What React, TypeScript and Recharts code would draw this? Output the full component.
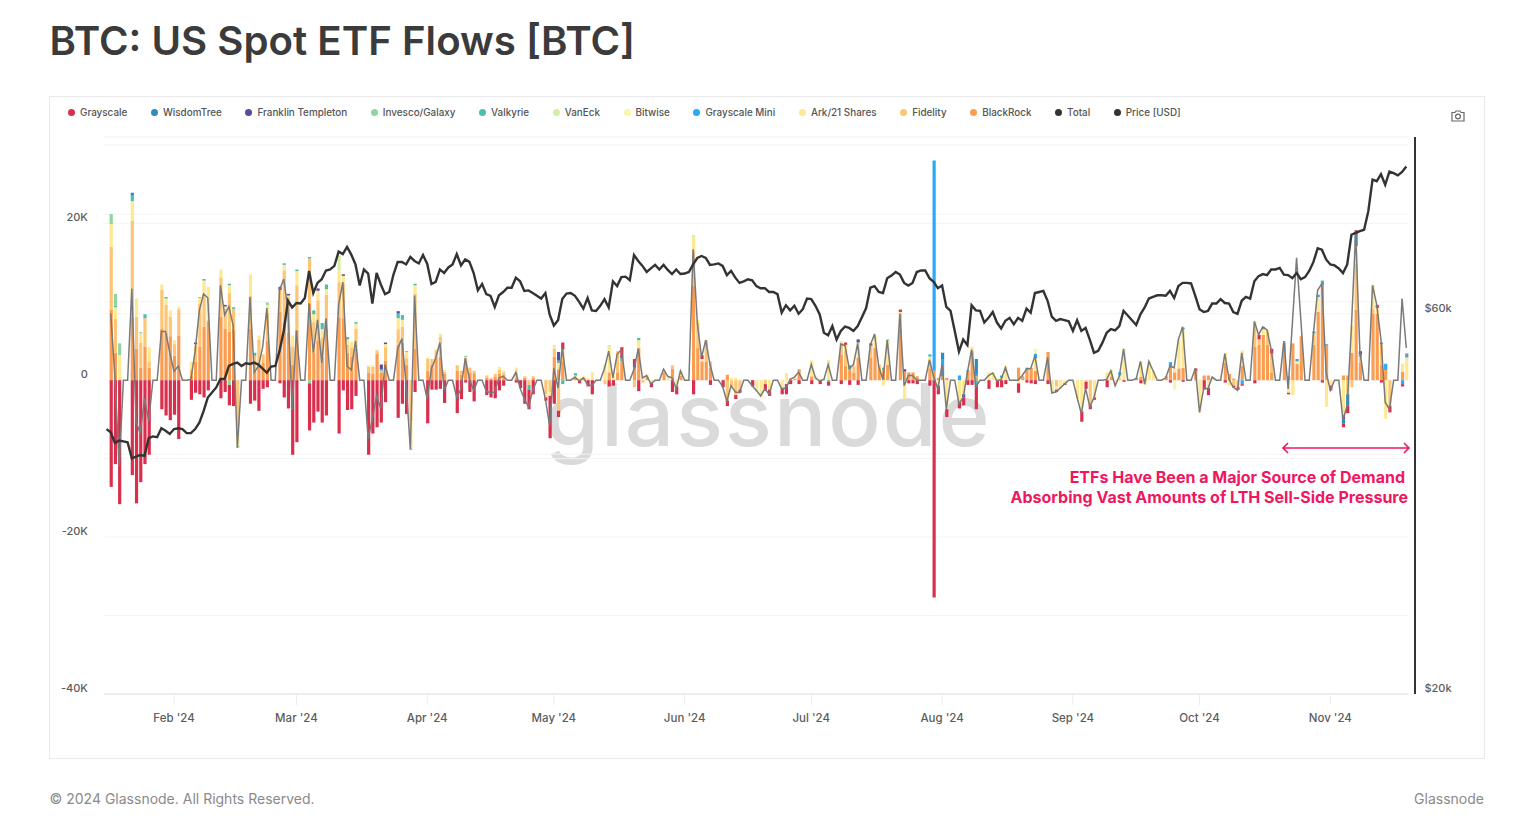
import {
  Bar,
  CartesianGrid,
  ComposedChart,
  Legend,
  Line,
  XAxis,
  YAxis,
} from "recharts";

// All flows are in thousands of BTC, one row per trading week (Mon-Fri).
// The first row starts on Tue 16 Jan, the last one stops on Tue 19 Nov.
const grayscale = [
  0, -13.6, -10.7, -15.8,
  -12.1, -15.7, -13.0, -10.7, -9.5,
  -3.7, -4.5, -5.1, -4.4, -7.5,
  -2.5, -1.6, -1.8, -2.2, -1.3,
  -2.3, -1.5, -2.6, -3.3, 0,
  -3.0, -2.6, -3.9, -1.1, -0.9,
  -0.4, -2.2, -3.6, -9.5, -7.9,
  -6.0, -5.4, -4.0, -5.4, -4.5,
  -6.8, -1.3, -3.8, -3.7, -2.0,
  -9.5, -6.8, -6.0, -5.4, -2.8,
  -4.8, -3.0, -4.3, 0, -1.5,
  -5.5, -1.2, -1.2, -1.1, -2.9,
  -4.2, -2.4, -0.3, -1.5, -2.7,
  -1.9, -2.2, -2.3, -1.3, -0.7,
  -0.3, -1.0, -3.0, -2.5, -1.8,
  -0.4, -5.4, -3.0, -0.8, 0.9,
  0, -0.4, 0, -0.8, -1.8,
  0, -0.8, -0.7, 0, 1.4,
  1.1, -1.4, 0, 0, -0.6,
  0, 0, -1.5, -1.0, 0,
  -1.8, 0, 0.5, 0, -0.6,
  -0.9, -0.7, 0, -0.5, -0.4,
  -0.8, 0, 0, -0.8, -0.8,
  -0.7, -1.3, -0.5, 0, -0.5,
  -0.5, 0, -0.5, 0, -0.5,
  -0.5, 0.3, -0.6, 0, -0.6,
  0.3, 0, 0, 0, 0,
  0.3, 0, -0.4, -0.4, -0.5,
  -0.7, -27.7, -1.1, 0, -1.0,
  -0.8, -1.0, -0.6, -0.6, -3.0,
  -1.1, 0, -0.9, -0.9, -0.5,
  -1.2, 0, -0.3, -0.4, -0.5,
  -0.5, 0, -0.3, 0, -0.2,
  0, -1.3, -0.9, -0.5, -0.3,
  -0.9, 0, 0, 0, -0.2,
  0, -0.4, 0, 0, 0,
  0, -0.3, 0, 0, -0.2,
  0.3, 0, -1.2, -0.9, 0,
  -0.3, 0, -0.2, -0.3, -0.2,
  -0.4, 0.6, 0, 0, 0.6,
  0, -0.2, 0, 0, 0,
  0, 0, -0.3, 0, -0.6,
  -0.5, -1.0, 0, 0.5, 0,
  0, 0.4, -0.3, 0, -0.8,
  -0.3, 0.1,
];

const blackRock = [
  0, 9.0, 3.5, 0,
  8.0, 4.0, 1.6, 4.3, 1.6,
  6.6, 6.0, 5.6, 3.1, 5.7,
  0.6, 2.4, 4.3, 6.8, 7.5,
  8.1, 6.6, 6.2, 6.4, 0,
  6.6, 1.2, 1.8, 2.2, 5.0,
  8.7, 7.3, 6.0, 2.0, 6.4,
  9.8, 3.5, 5.0, 3.0, 6.6,
  8.0, 7.9, 3.5, 3.0, 4.0,
  1.0, 0.8, 3.4, 1.0, 2.5,
  4.5, 4.8, 2.0, 0, 4.0,
  1.2, 2.0, 2.8, 3.0, 0.8,
  1.2, 0.7, 2.3, 1.0, 0.9,
  0.3, 0.2, 0.5, 0.8, 0.7,
  0.3, 0, 0.3, 0, 0.3,
  0, 0, 3.0, 1.4, 2.4,
  0.3, 0, 0.3, 0, 0,
  0, 1.0, 0, 1.0, 2.4,
  1.6, 4.1, 0, 0.4, 0,
  1.0, 0, 1.5, 0, 0.6,
  12.0, 4.1, 2.4, 2.4, 1.6,
  0, 0.7, 0, 0, 0,
  0, 0, 0, 0, 0,
  0, 0, 0, 0.2, 1.4,
  0.5, 0, 0, 0, 0,
  3.3, 1.8, 1.4, 1.0, 2.9,
  2.9, 4.1, 1.5, 1.4, 2.0,
  6.5, 1.1, 1.0, 1.0, 0.5,
  1.5, 1.2, 0.3, 0.5, 0.3,
  0, 0, 1.2, 3.7, 0.5,
  0, 0, 0, 0, 0,
  1.6, 0.5, 1.4, 1.6, 1.2,
  3.6, 0, 0, 0, 0,
  0, 0, 0, 0, 0,
  0, 0.5, 0, 0.1, 0,
  0.3, 0.4, 0.2, 0, 0,
  0.5, 1.8, 1.0, 1.5, 1.6,
  1.2, 0, 0.6, 0.6, 0,
  2.2, 0.8, 0.2, 0, 1.8,
  4.3, 4.5, 5.8, 4.5, 1.0,
  4.8, 0.5, 4.7, 2.1, 5.6,
  4.5, 8.7, 12.1, 4.5, 0,
  0.6, 0.6, 3.5, 9.0, 2.2,
  8.5, 8.5, 2.0, 1.3, 0,
  1.1, 0,
];

const fidelity = [
  0, 8.0, 4.3, 0,
  12.3, 4.1, 3.2, 3.6, 0.8,
  4.9, 3.6, 2.5, 1.5, 3.3,
  0.8, 1.9, 5.5, 4.2, 0.2,
  5.0, 2.5, 4.9, 2.7, -6.0,
  4.2, 1.9, 3.4, 1.1, 3.6,
  2.8, 6.7, 4.6, 2.3, 5.7,
  5.7, 3.9, 5.2, 2.4, 4.3,
  4.5, 4.4, 1.0, 1.2, 2.6,
  0.7, 0.9, 0.4, 0.2, 1.7,
  2.0, 2.0, 0.8, -5.2, 7.0,
  1.5, 0.7, 1.0, 2.5, 0.3,
  0.7, 0.5, 0.6, 0.6, 0.3,
  0.3, 0.1, 0.3, 0.5, 0.3,
  0.6, 0, 0.2, -0.6, 0.2,
  -1.8, -1.5, 1.0, -3.9, 1.5,
  0, 0, 0, 0, 0,
  -0.5, 0, 0, 2.7, 0,
  -0.9, 0, -0.3, 0, 0,
  0, 0, 0.4, 0, 0,
  4.5, 3.2, 0, 2.7, 0.8,
  0, -2.6, -0.9, -1.9, -1.2,
  0, 0, 0, -0.5, 0,
  0, 0, 0, 0, 0,
  0, 0, 0, 0, 0,
  1.5, 2.0, 0, 0.8, 0,
  1.5, 0, 0.5, 0, 0,
  2.0, 0, 0, 0, 0,
  1.0, 0, 0, 0, 0,
  0, 0, 0, 0, 0,
  0, 0, 0, 0, 0,
  0, 0, 0, 0, 0,
  0, 0, -0.8, 0, 0,
  0, 0, -0.2, -3.2, 0,
  0, 0, 0, 0, 0,
  0, 0, 0, 0, 0,
  0, 0, 0, 0, 0,
  0, 0, 0, 0, 0,
  0, 0, -0.7, -0.9, 0,
  2.5, 0.7, 0, 1.7, 2.4,
  0, 0, 0, 0, 0,
  1.5, 0, 0, 0, 0,
  0, -1.8, -0.9, 5.8, 0.8,
  0.6, 0, 2.6, 0, -3.3,
  0, 0,
];

const ark = [
  0, 2.9, 1.5, 3.2,
  2.5, 2.3, 1.2, 0, 1.8,
  0.7, 0.8, 0.8, 0.5, 0.3,
  0.9, 0.3, 0.7, 1.7, 4.2,
  1.0, 0.3, 1.0, 0, -2.4,
  2.7, 0, 0.5, 0, 1.0,
  0, 0.7, 0.2, 1.4, 1.8,
  0, 1.0, 1.2, 1.1, 0.7,
  1.5, 1.0, 0.7, 0.7, 0.6,
  0.2, 0.2, 0.1, 0, 0.4,
  1.4, 0.9, 0.8, -3.5, 1.1,
  0.2, 0, 0.2, 0.4, 0.2,
  0, 0, 0.1, 0, 0,
  0, 0, 0, 0.4, 0.2,
  0.7, 0, 0, 0, 0,
  -0.4, -0.5, 0.3, 0.8, 0,
  0.3, 0.3, 0.2, 0.3, 1.0,
  2.0, 3.2, 0.5, 0, 0,
  0, 1.0, 0.5, 0.3, -0.3,
  0.4, 0.5, 0, -0.8, 0.6,
  1.7, 0.4, 0.3, 0, 0,
  0.1, 0, 0.3, 0.3, 0,
  0, -1.5, -2.2, 0.1, -1.2,
  -1.1, 0.9, 0.3, 0.2, 0,
  2.0, 0.5, 0.2, 0.2, 2.6,
  0.2, 0.7, 0, 0.2, 1.9,
  0, 1.7, 0, -0.7, 3.0,
  0.2, -2.4, 0, 0, 0,
  0.5, 0, -0.7, 0, -3.7,
  -2.8, -1.8, 0, 0.6, 0,
  1.0, 1.0, 0.3, 0.3, 1.8,
  -0.4, 0, 0, 0, 1.6,
  0, -1.7, -0.4, -1.1, -0.4,
  -2.4, -4.0, 0, 0, -2.2,
  1.0, 0.8, -0.7, 0.5, 4.0,
  0, 2.0, -0.6, 2.4, 1.2,
  0, 0, 0.6, 3.7, 4.9,
  0, -4.1, 0, -1.0, 0.4,
  1.3, -0.7, 0, 0, 2.0,
  0.7, 0, 0.7, 0.2, 0,
  0, -1.6, -1.9, 0.3, 0,
  0, 1.9, 0, -3.4, -0.7,
  -4.5, 0, 3.4, 2.3, 0,
  3.0, 0.7, 0, -4.9, 0,
  1.0, 2.9,
];

const total = [
  null, 8.5, 0.3, -11.0,
  11.7, -5.3, -6.8, -2.3, -5.2,
  6.2, 6.2, 3.5, 1.1, 1.8,
  0.1, 3.7, 8.9, 11.0, 10.5,
  12.1, 8.3, 9.4, 7.0, -8.6,
  10.6, 1.0, 1.8, 4.2, 9.2,
  11.5, 12.9, 9.0, -3.8, 6.3,
  9.8, 3.5, 7.7, 2.2, 7.9,
  9.6, 12.5, 1.8, 1.3, 5.0,
  -7.5, -4.9, -2.0, -3.6, 2.0,
  4.0, 5.3, -0.6, -8.8, 10.8,
  -2.4, 1.5, 2.8, 4.8, -1.3,
  -2.2, -1.1, 2.8, 0.1, -1.3,
  -1.4, -1.6, -1.5, 0.3, 0.5,
  1.0, -1.0, -2.4, -3.4, -1.3,
  -2.4, -5.8, 1.5, -1.0, 4.1,
  0.4, -0.1, 0.3, -0.6, -0.7,
  1.5, 3.7, 0.3, 3.3, 3.9,
  1.4, 4.0, 0.3, 0.6, -0.5,
  1.4, 0.5, 0.3, -1.1, 1.2,
  16.7, 7.3, 2.9, 5.1, 2.0,
  -0.8, -2.7, -0.7, -1.5, -1.6,
  -0.7, -1.3, -2.0, -1.1, -1.8,
  -1.1, -1.0, 0.1, 0.4, 1.0,
  2.0, 0.3, -0.1, 0.1, 2.0,
  4.6, 4.4, 1.5, 2.0, 4.7,
  4.5, 5.9, 1.7, 0.1, 5.1,
  8.5, -0.7, 0.6, 0.6, 0,
  2.6, 0.4, -1.1, 2.0, -3.7,
  -3.0, -2.2, 1.0, 3.9, -0.9,
  0.6, 0.9, -0.1, 0.1, 1.6,
  0, 0.6, 1.4, 1.5, 3.1,
  2.9, -1.6, -1.5, -1.0, -0.5,
  -2.2, -4.3, -1.0, -3.4, -2.2,
  0.1, 1.2, -0.7, 0.5, 4.0,
  0.2, 2.4, -0.5, 2.4, 1.2,
  0.3, 1.8, 1.6, 5.2, 6.8,
  1.5, -4.1, -1.0, -1.1, 0.4,
  3.4, 0.1, -0.9, -1.3, 3.5,
  7.5, 5.8, 6.8, 6.4, 3.9,
  5.0, -1.1, 7.2, 15.6, 7.8,
  6.0, 11.5, 12.3, 1.0, -1.3,
  -5.1, -3.2, 6.8, 18.8, 3.7,
  12.1, 9.6, 5.2, -2.8, -3.7,
  10.4, 4.1,
];

// The small funds only show up on some days.
const bitwise: [string, number][] = [
  ["06-25", -0.5], ["08-23", 0.6], ["09-25", -1.2],
];
const vanEck: [string, number][] = [
  ["03-11", 1.9], ["05-01", 0.2], ["05-14", 0.3], ["06-03", 0.3], ["10-21", 0.2],
];
const invesco: [string, number][] = [
  ["01-17", 1.3], ["01-18", 1.5], ["01-19", 1.5], ["02-14", -0.6], ["02-16", -0.2],
  ["02-23", 0.3], ["03-04", -0.4], ["03-28", -0.2], ["07-19", 0.2],
];
const valkyrie: [string, number][] = [
  ["01-18", 0.2], ["01-22", 0.7], ["01-24", 0.1], ["01-25", 0.5], ["01-30", 0.2],
  ["02-07", 0.1], ["02-08", 0.2], ["02-14", 0.2], ["02-15", 0.2], ["02-20", 0.4],
  ["02-27", 0.2], ["03-01", 0.2], ["03-04", 0.2], ["03-05", 0.5], ["03-07", 0.8],
  ["03-08", 0.6], ["03-13", 0.3], ["03-15", 0.2], ["03-21", 0.2], ["03-25", 0.6],
  ["03-26", 0.6], ["03-27", 0.1], ["03-29", 0.2], ["04-10", 0.1], ["04-25", -0.6],
  ["05-02", 0.3], ["05-03", -0.5], ["05-06", 0.3], ["05-17", 0.4], ["05-21", 0.3],
  ["07-05", -0.2], ["07-10", 0.5], ["07-18", 0.2], ["07-29", 0.3], ["08-09", -0.7],
  ["10-30", 0.2],
];
const franklin: [string, number][] = [
  ["02-06", 0.2], ["02-13", 0.2], ["02-26", 0.4], ["02-28", 0.2], ["03-06", 0.3],
  ["03-12", 0.2], ["03-21", 0.6], ["03-22", 0.2], ["03-25", 0.3], ["05-02", 1.1],
  ["07-12", 0.4], ["07-23", 0.3], ["08-06", -0.4], ["11-04", -0.5], ["11-08", 0.4],
];
const wisdomTree: [string, number][] = [
  ["01-22", 0.4], ["08-01", 0.9], ["08-09", 1.9], ["11-04", -0.5], ["11-05", -1.4],
  ["11-07", 1.5],
];
const grayscaleMini: [string, number][] = [
  ["07-30", 26.8], ["08-01", 2.1], ["08-05", 0.6], ["08-07", 0.1], ["08-09", 0.3],
  ["08-15", 0.3], ["08-21", 0.2], ["08-23", 0.6], ["09-12", 0.4], ["09-24", 0.5],
  ["09-27", 0.2], ["10-11", -0.5], ["10-16", 0.3], ["10-24", 0.3], ["10-28", 0.2],
  ["10-29", 0.3], ["10-30", 0.4], ["10-31", 0.1], ["11-08", 0.3], ["11-13", 0.2],
  ["11-14", 0.8], ["11-18", -0.5], ["11-19", 0.4],
];

// BTC price in thousands of USD, every calendar day from 16 Jan.
const price = [
  43.0, 42.6, 41.3, 41.6, 41.5, 41.4, 39.5, 39.7, 39.9, 39.8,
  41.9, 42.1, 42.0, 43.1, 42.8, 42.4, 43.0, 43.1, 43.0, 42.5,
  42.5, 43.0, 43.8, 45.3, 47.1, 47.8, 48.5, 49.7, 49.7, 51.6,
  51.9, 52.1, 51.6, 52.0, 51.9, 52.1, 51.8, 51.2, 50.6, 51.5,
  51.6, 53.9, 57.1, 62.3, 61.1, 61.9, 61.8, 62.8, 67.9, 63.7,
  65.6, 66.3, 68.0, 68.2, 68.9, 71.8, 71.3, 72.8, 71.2, 69.2,
  65.1, 68.2, 67.4, 61.8, 67.5, 65.3, 63.5, 63.9, 67.2, 69.7,
  69.7, 69.2, 70.7, 69.9, 69.4, 71.1, 69.3, 65.4, 65.8, 68.2,
  67.5, 68.6, 69.2, 71.3, 69.0, 70.2, 69.7, 67.5, 64.2, 65.4,
  63.5, 63.2, 61.2, 63.3, 63.9, 64.7, 64.7, 66.6, 65.9, 64.1,
  64.2, 63.7, 63.2, 62.7, 63.7, 59.9, 58.0, 58.9, 62.6, 63.6,
  63.7, 63.2, 62.1, 60.9, 62.8, 60.6, 60.5, 61.4, 62.6, 61.1,
  65.9, 65.0, 66.7, 66.8, 66.1, 71.1, 69.9, 68.9, 67.7, 68.4,
  69.1, 68.2, 69.1, 68.1, 67.3, 68.2, 67.3, 67.4, 67.7, 69.2,
  70.5, 70.9, 70.5, 69.1, 69.2, 69.4, 68.9, 67.1, 67.9, 66.6,
  65.6, 65.9, 66.3, 66.1, 65.0, 64.6, 64.6, 63.9, 63.9, 63.5,
  60.2, 61.5, 60.6, 61.4, 60.0, 60.8, 62.7, 62.6, 61.4, 59.9,
  56.8, 56.4, 57.9, 55.7, 57.1, 57.8, 57.6, 57.1, 57.9, 59.4,
  61.0, 64.7, 65.0, 63.9, 63.7, 66.5, 67.0, 67.7, 67.2, 65.6,
  65.1, 65.6, 67.7, 68.0, 68.0, 66.5, 65.8, 64.6, 65.1, 61.2,
  60.5, 57.1, 53.8, 55.7, 54.8, 61.5, 60.6, 60.5, 58.5, 59.3,
  60.3, 58.5, 57.5, 58.8, 59.3, 58.2, 59.3, 58.8, 60.9, 60.2,
  63.7, 63.9, 64.1, 62.3, 59.5, 58.8, 59.1, 58.9, 58.7, 57.1,
  58.9, 57.1, 57.6, 55.7, 53.6, 53.9, 55.2, 56.8, 57.4, 57.2,
  57.9, 60.5, 59.7, 58.9, 58.1, 59.9, 61.1, 62.7, 63.0, 63.3,
  63.3, 63.2, 64.1, 62.8, 65.0, 65.6, 65.6, 65.5, 63.2, 60.8,
  60.3, 60.5, 61.8, 61.8, 62.6, 61.9, 61.8, 60.3, 60.0, 62.3,
  63.0, 62.7, 65.9, 66.9, 67.3, 67.1, 68.2, 68.2, 68.5, 67.2,
  67.1, 66.5, 67.5, 66.3, 66.7, 67.9, 69.7, 72.5, 72.2, 70.2,
  69.2, 69.0, 68.4, 67.5, 69.2, 75.4, 75.8, 76.2, 76.5, 80.7,
  88.4, 88.0, 89.8, 87.1, 90.5, 90.1, 89.5, 90.4, 91.8,
];

const monthTicks = [
  "02-01", "03-01", "04-01", "05-01", "06-01", "07-01",
  "08-01", "09-01", "10-01", "11-01",
];
const monthLabels = [
  "Feb '24", "Mar '24", "Apr '24", "May '24", "Jun '24", "Jul '24",
  "Aug '24", "Sep '24", "Oct '24", "Nov '24",
];
const flowTicks = [-40, -30, -20, -10, 0, 10, 20, 30];
const priceTicks = [20, 40, 60, 80, 100];

const legendItems = [
  { name: "Grayscale", color: "#d92f4d" },
  { name: "WisdomTree", color: "#2f8cc1" },
  { name: "Franklin Templeton", color: "#5c4a9f" },
  { name: "Invesco/Galaxy", color: "#8ed69f" },
  { name: "Valkyrie", color: "#4dbdb0" },
  { name: "VanEck", color: "#d4eeaa" },
  { name: "Bitwise", color: "#fbf6a6" },
  { name: "Grayscale Mini", color: "#2aa9f7" },
  { name: "Ark/21 Shares", color: "#fde992" },
  { name: "Fidelity", color: "#fdc574" },
  { name: "BlackRock", color: "#fb9d50" },
  { name: "Total", color: "#333333" },
  { name: "Price [USD]", color: "#333333" },
];
const colorOf = (name: string) => legendItems.find((l) => l.name === name)!.color;

const stackOrder: [string, string][] = [
  ["blackRock", "BlackRock"],
  ["fidelity", "Fidelity"],
  ["ark", "Ark/21 Shares"],
  ["grayscaleMini", "Grayscale Mini"],
  ["bitwise", "Bitwise"],
  ["vanEck", "VanEck"],
  ["valkyrie", "Valkyrie"],
  ["invesco", "Invesco/Galaxy"],
  ["franklin", "Franklin Templeton"],
  ["wisdomTree", "WisdomTree"],
  ["grayscale", "Grayscale"],
];

function buildRows() {
  const sparse = { bitwise, vanEck, invesco, valkyrie, franklin, wisdomTree, grayscaleMini };
  const rows: any[] = [];
  let tradingDay = 0;
  price.forEach((usd, i) => {
    const d = new Date(Date.UTC(2024, 0, 16 + i));
    const date = d.toISOString().slice(5, 10);
    const row: any = { date, price: usd, total: 0 };
    const dow = d.getUTCDay();
    if (dow !== 0 && dow !== 6) {
      row.grayscale = grayscale[tradingDay];
      row.blackRock = blackRock[tradingDay];
      row.fidelity = fidelity[tradingDay];
      row.ark = ark[tradingDay];
      row.total = total[tradingDay];
      tradingDay += 1;
    }
    for (const [key, list] of Object.entries(sparse)) {
      const hit = list.find((entry) => entry[0] === date);
      if (hit) row[key] = hit[1];
    }
    rows.push(row);
  });
  return rows;
}

const rows = buildRows();

const FONT = "Inter, sans-serif";
const AXIS_COLOR = "#5c5c5c";

function LeftTick({ x, y, payload }: any) {
  if (payload.value % 20 !== 0) return null;
  const label = payload.value === 0 ? "0" : `${payload.value}K`;
  return (
    <text x={x - 14.5} y={y - 5.5} textAnchor="end" dominantBaseline="middle" fontSize={11} fontWeight={500} fill={AXIS_COLOR}>
      {label}
    </text>
  );
}

function RightTick({ x, y, payload }: any) {
  if (payload.value !== 20 && payload.value !== 60) return null;
  return (
    <text x={x + 14} y={y - 5} textAnchor="start" dominantBaseline="middle" fontSize={11} fontWeight={500} fill={AXIS_COLOR}>
      {`$${payload.value}k`}
    </text>
  );
}

function ChartLegend() {
  return (
    <div style={{ display: "flex", gap: 23.6, paddingLeft: 18, fontFamily: FONT, fontSize: 9.9, fontWeight: 500, color: "#555", whiteSpace: "nowrap" }}>
      {legendItems.map((item) => (
        <div key={item.name} style={{ display: "flex", alignItems: "center", gap: 5 }}>
          <span style={{ width: 7, height: 7, borderRadius: "50%", background: item.color }} />
          {item.name}
        </div>
      ))}
    </div>
  );
}

export default function App() {
  return (
    <div style={{ position: "absolute", left: 0, top: 0, width: 1530, height: 829, background: "#fff", fontFamily: FONT, overflow: "hidden" }}>
      <div style={{ position: "absolute", left: 49.5, top: 15, fontSize: 40.2, fontWeight: 600, color: "#3b3b3b", lineHeight: "52px", whiteSpace: "nowrap" }}>
        BTC: US Spot ETF Flows [BTC]
      </div>

      <div style={{ position: "absolute", left: 49, top: 96, width: 1434, height: 661, border: "1px solid #e9e9e9" }} />

      <div style={{ position: "absolute", left: 545, top: 350, fontSize: 87, fontWeight: 500, letterSpacing: 2, color: "#dadada", lineHeight: "130px", whiteSpace: "nowrap" }}>
        glassnode
      </div>

      <div style={{ position: "absolute", left: 50, top: 97 }}>
        <ComposedChart
          width={1434}
          height={661}
          data={rows}
          stackOffset="sign"
          margin={{ top: 14, right: 0, bottom: 0, left: 0 }}
          style={{ fontFamily: FONT }}
        >
          <CartesianGrid yAxisId="left" vertical={false} stroke="#f3f3f3" />
          <CartesianGrid yAxisId="right" vertical={false} stroke="#f3f3f3" />
          <XAxis
            dataKey="date"
            ticks={monthTicks}
            interval={0}
            height={64}
            tickSize={11}
            tickMargin={9}
            tickFormatter={(v: string) => monthLabels[monthTicks.indexOf(v)]}
            tick={{ fill: AXIS_COLOR, fontSize: 11.5, fontWeight: 500 }}
            axisLine={{ stroke: "#e4e4e4" }}
            tickLine={{ stroke: "#ececec" }}
          />
          <YAxis
            yAxisId="left"
            width={54.4}
            domain={[-40, 31]}
            ticks={flowTicks}
            interval={0}
            allowDataOverflow
            axisLine={false}
            tickLine={false}
            tickSize={0}
            tick={LeftTick}
          />
          <YAxis
            yAxisId="right"
            orientation="right"
            width={75.6}
            scale="log"
            domain={[20, 100]}
            ticks={priceTicks}
            interval={0}
            allowDataOverflow
            axisLine={false}
            tickLine={false}
            tickSize={0}
            tick={RightTick}
          />
          <Legend verticalAlign="top" height={26} content={ChartLegend} wrapperStyle={{ left: 0, top: 9, width: 1434 }} />
          {stackOrder.map(([key, name]) => (
            <Bar
              key={key}
              yAxisId="left"
              dataKey={key}
              name={name}
              stackId="flows"
              barSize={3.2}
              fill={colorOf(name)}
              isAnimationActive={false}
            />
          ))}
          <Line
            yAxisId="left"
            dataKey="total"
            name="Total"
            stroke="#7a7a7a"
            strokeWidth={1.5}
            dot={false}
            isAnimationActive={false}
          />
          <Line
            yAxisId="right"
            dataKey="price"
            name="Price [USD]"
            stroke="#333333"
            strokeWidth={2.4}
            dot={false}
            isAnimationActive={false}
          />
        </ComposedChart>
      </div>

      {/* right axis rule sits a few px past the plot */}
      <div style={{ position: "absolute", left: 1414, top: 137, width: 2, height: 557, background: "#333" }} />

      <svg style={{ position: "absolute", left: 1450, top: 108 }} width={16} height={16} viewBox="0 0 16 16" fill="none" stroke="#666" strokeWidth={1.2}>
        <path d="M2 4.5h3l1-1.5h4l1 1.5h3v8.5H2z" />
        <circle cx={8} cy={8.5} r={2.4} />
      </svg>

      <svg style={{ position: "absolute", left: 1280, top: 440 }} width={132} height={16} fill="none" stroke="#f0175f" strokeWidth={1.6}>
        <path d="M3 8H129M8 3L3 8L8 13M124 3L129 8L124 13" />
      </svg>

      <div style={{ position: "absolute", right: 122, top: 467, textAlign: "right", fontSize: 16, fontWeight: 700, lineHeight: "20px", color: "#f0175f", whiteSpace: "nowrap" }}>
        <div style={{ paddingRight: 3 }}>ETFs Have Been a Major Source of Demand</div>
        <div>Absorbing Vast Amounts of LTH Sell-Side Pressure</div>
      </div>

      <div style={{ position: "absolute", left: 49.5, top: 790, fontSize: 14, color: "#8a8a8a", whiteSpace: "nowrap" }}>
        © 2024 Glassnode. All Rights Reserved.
      </div>
      <div style={{ position: "absolute", right: 46, top: 790, fontSize: 14, color: "#8a8a8a" }}>Glassnode</div>
    </div>
  );
}
